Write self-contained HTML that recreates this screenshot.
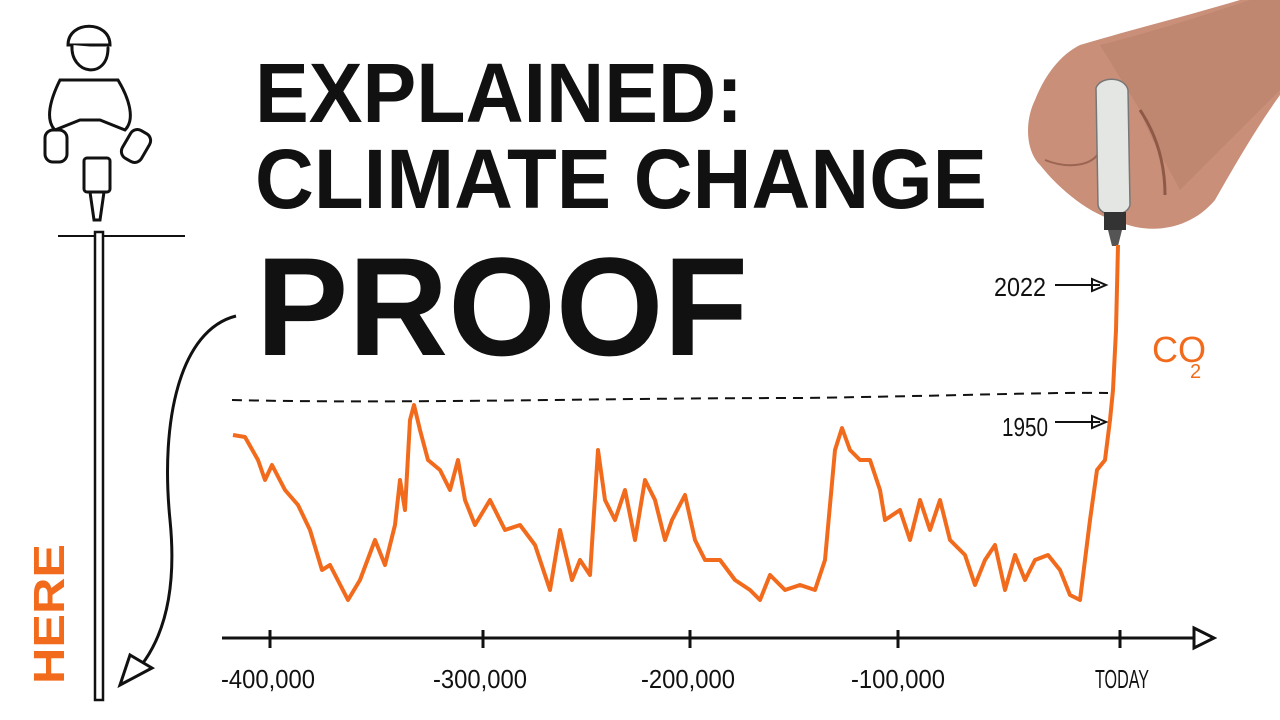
<!DOCTYPE html>
<html><head><meta charset="utf-8"><style>
html,body{margin:0;padding:0;background:#fff;}
svg{display:block}
</style></head><body>
<svg width="1280" height="720" viewBox="0 0 1280 720" xmlns="http://www.w3.org/2000/svg">
<rect width="1280" height="720" fill="#fff"/>
<!-- hand -->
<path d="M1240,0 L1280,0 L1280,95 C1255,130 1235,165 1215,200 C1190,230 1150,235 1120,222 C1090,215 1060,190 1040,165 C1025,150 1025,120 1035,100 C1045,75 1060,55 1080,45 C1130,30 1190,15 1240,0 Z" fill="#c98f78"/>
<path d="M1100,45 C1160,30 1220,10 1250,0 L1280,0 L1280,90 C1250,120 1220,150 1180,190 C1165,160 1150,140 1140,110 Z" fill="#b9806a" opacity="0.6"/>
<path d="M1140,110 C1160,140 1165,170 1165,195" stroke="#8e5a47" stroke-width="3" fill="none"/>
<path d="M1045,160 C1070,170 1095,165 1100,150" stroke="#9a6552" stroke-width="2" fill="none"/>
<!-- marker -->
<path d="M1096,88 C1100,76 1125,76 1128,90 L1130,205 C1127,218 1100,218 1098,205 Z" fill="#e4e6e4" stroke="#777" stroke-width="1.5"/>
<rect x="1104" y="212" width="22" height="18" fill="#333"/>
<path d="M1108,230 L1122,230 L1118,246 L1112,246 Z" fill="#555"/>
<!-- figure -->
<g stroke="#111" stroke-width="3" fill="#fff" stroke-linecap="round">
<path d="M68,45 C68,20 110,20 110,45 Z"/>
<path d="M72,45 C70,75 108,80 108,48"/>
<path d="M60,80 C50,100 45,120 55,130 L80,120 L100,120 L125,130 C135,120 130,100 118,80 Z"/>
<rect x="45" y="130" width="22" height="32" rx="8"/>
<rect x="125" y="130" width="22" height="32" rx="8" transform="rotate(30 136 146)"/>
<rect x="84" y="158" width="26" height="34" rx="3"/>
<path d="M90,192 L104,192 L100,220 L94,220 Z"/>
</g>
<line x1="58" y1="236" x2="185" y2="236" stroke="#111" stroke-width="2"/>
<rect x="95" y="232" width="8" height="468" fill="#fff" stroke="#111" stroke-width="2.5"/>
<!-- curved arrow -->
<path d="M236,316 C180,330 160,420 170,520 C178,600 160,650 128,680" fill="none" stroke="#111" stroke-width="3"/>
<path d="M120,685 L130,655 L152,668 Z" fill="#fff" stroke="#111" stroke-width="3"/>
<text x="0" y="0" transform="translate(64,684) rotate(-90)" font-family="Liberation Sans, sans-serif" font-weight="bold" font-size="44" fill="#f26b1d" textLength="140" lengthAdjust="spacingAndGlyphs">HERE</text>
<!-- titles -->
<g font-family="Liberation Sans, sans-serif" font-weight="bold" fill="#111">
<text x="255" y="122" font-size="84" textLength="488" lengthAdjust="spacingAndGlyphs">EXPLAINED:</text>
<text x="255" y="208" font-size="84" textLength="732" lengthAdjust="spacingAndGlyphs">CLIMATE CHANGE</text>
<text x="256" y="355" font-size="140" textLength="492" lengthAdjust="spacingAndGlyphs">PROOF</text>
</g>
<!-- dashed -->
<path d="M232,400 C400,404 600,398 800,398 C950,396 1050,392 1108,393" fill="none" stroke="#111" stroke-width="2" stroke-dasharray="10,7"/>
<!-- curve -->
<polyline fill="none" stroke="#f26b1d" stroke-width="4" stroke-linejoin="round" points="233,435 245,437 258,460 265,480 272,465 285,490 298,505 310,530 322,570 330,565 348,600 360,580 375,540 385,565 395,525 400,480 405,510 410,420 414,405 420,430 428,460 440,470 450,490 458,460 465,500 475,525 490,500 505,530 520,525 535,545 550,590 560,530 572,580 580,560 590,575 598,450 605,500 615,520 625,490 635,540 645,480 655,500 665,540 672,520 685,495 695,540 705,560 720,560 735,580 750,590 760,600 770,575 785,590 800,585 815,590 825,560 835,450 842,428 850,450 860,460 870,460 880,490 885,520 900,510 910,540 920,500 930,530 940,500 950,540 965,555 975,585 985,560 995,545 1005,590 1015,555 1025,580 1035,560 1048,555 1060,570 1070,595 1080,600 1090,520 1097,470 1105,460 1110,420 1113,390 1116,330 1118,245"/>
<!-- axis -->
<line x1="222" y1="638" x2="1200" y2="638" stroke="#111" stroke-width="3"/>
<path d="M1194,628 L1214,638 L1194,648 Z" fill="#fff" stroke="#111" stroke-width="3"/>
<g stroke="#111" stroke-width="3">
<line x1="270" y1="630" x2="270" y2="648"/><line x1="483" y1="630" x2="483" y2="648"/>
<line x1="690" y1="630" x2="690" y2="648"/><line x1="898" y1="630" x2="898" y2="648"/>
<line x1="1120" y1="630" x2="1120" y2="648"/>
</g>
<g font-family="Liberation Sans, sans-serif" font-size="26" fill="#111" text-anchor="middle">
<text x="268" y="688" textLength="94" lengthAdjust="spacingAndGlyphs">-400,000</text>
<text x="480" y="688" textLength="94" lengthAdjust="spacingAndGlyphs">-300,000</text>
<text x="688" y="688" textLength="94" lengthAdjust="spacingAndGlyphs">-200,000</text>
<text x="898" y="688" textLength="94" lengthAdjust="spacingAndGlyphs">-100,000</text>
<text x="1122" y="688" textLength="54" lengthAdjust="spacingAndGlyphs">TODAY</text>
<text x="1020" y="296" textLength="52" lengthAdjust="spacingAndGlyphs">2022</text>
<text x="1025" y="436" textLength="46" lengthAdjust="spacingAndGlyphs">1950</text>
</g>
<g stroke="#111" stroke-width="2" fill="none">
<line x1="1055" y1="285" x2="1100" y2="285"/><path d="M1092,279 L1106,285 L1092,291 Z"/>
<line x1="1055" y1="422" x2="1100" y2="422"/><path d="M1092,416 L1106,422 L1092,428 Z"/>
</g>
<text x="1152" y="362" font-family="Liberation Sans, sans-serif" font-size="36" fill="#f26b1d">CO</text>
<text x="1190" y="378" font-family="Liberation Sans, sans-serif" font-size="20" fill="#f26b1d">2</text>
</svg>
</body></html>
